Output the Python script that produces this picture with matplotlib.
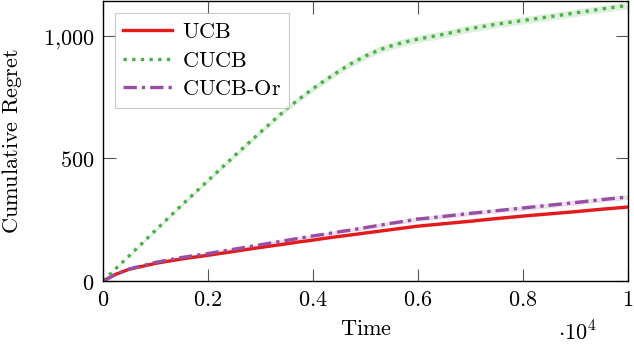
import numpy as np
import matplotlib
matplotlib.use("Agg")
import matplotlib.pyplot as plt
from matplotlib.ticker import FuncFormatter, MultipleLocator

plt.rcParams["mathtext.fontset"] = "cm"
plt.rcParams["font.family"] = "serif"
plt.rcParams["font.serif"] = ["DejaVu Serif"]

# time steps
time = [0, 250, 500, 1000, 1500, 2000, 2500, 3000, 3500, 3750, 4000, 4250, 4500, 4750,
        5000, 5250, 5500, 5750, 6000, 6250, 6500, 7000, 7500, 8000, 8500, 9000, 9500, 10000]

ucb = [0, 28, 48, 72, 90, 105, 121, 137, 152, 160, 167, 175, 182, 189,
       196, 203, 210, 217, 224, 229, 234, 244, 255, 265, 274, 283, 293, 302]
cucb = [0, 52, 103, 207, 310, 410, 510, 608, 703, 745, 785, 822, 857, 890,
        918, 942, 960, 975, 987, 997, 1007, 1030, 1048, 1063, 1078, 1094, 1110, 1125]
cucb_or = [0, 28, 49, 76, 96, 112, 130, 148, 166, 175, 184, 192, 201, 209,
           218, 227, 236, 244, 253, 258, 264, 276, 287, 298, 309, 320, 332, 343]

# half-width of the shaded bands
ucb_sd = [0, 1, 2, 3, 3, 4, 4, 4, 5, 5, 5, 5, 5, 5,
          5, 5, 5, 5, 5, 6, 6, 6, 6, 6, 6, 6, 6, 6]
cucb_sd = [0, 2, 4, 6, 7, 8, 9, 10, 11, 12, 12, 13, 13, 14,
           14, 15, 15, 15, 15, 15, 15, 15, 15, 15, 15, 15, 15, 15]
cucb_or_sd = [0, 1, 3, 4, 5, 5, 6, 6, 7, 7, 7, 7, 8, 8,
              8, 8, 8, 9, 9, 9, 9, 9, 9, 10, 10, 10, 10, 10]

series = [
    ("UCB", ucb, ucb_sd, "#e41a1c", "-"),
    ("CUCB", cucb, cucb_sd, "#4daf4a", (0, (1, 1.6))),
    ("CUCB-Or", cucb_or, cucb_or_sd, "#984ea3", (0, (4, 1.5, 1, 1.5))),
]

fig = plt.figure(figsize=(6.34, 3.48), dpi=100)
ax = fig.add_axes([0.1625, 0.1925, 0.828, 0.805])

t = np.array(time)
for name, y, sd, col, ls in series:
    y = np.array(y)
    sd = np.array(sd)
    ax.fill_between(t, y - sd, y + sd, color=col, alpha=0.18, lw=0)
    ax.plot(t, y, color=col, ls=ls, lw=2.4, label=r"$\text{%s}$" % name)

ax.set_xlim(0, 10000)
ax.set_ylim(0, 1143)
ax.xaxis.set_major_locator(MultipleLocator(2000))
ax.yaxis.set_major_locator(MultipleLocator(500))


def xfmt(v, pos):
    v = v / 1e4
    if abs(v) < 1e-9:
        return r"$0$"
    if abs(v - 1) < 1e-9:
        return r"$1$"
    return r"$%.1f$" % v


def yfmt(v, pos):
    return r"$%s$" % ("{:,}".format(int(v)).replace(",", "{,}"))


FS = 16
ax.xaxis.set_major_formatter(FuncFormatter(xfmt))
ax.yaxis.set_major_formatter(FuncFormatter(yfmt))
ax.tick_params(direction="in", length=9, width=0.8, color="#555555",
               top=True, right=True, labelsize=FS, pad=6)
for s in ax.spines.values():
    s.set_linewidth(1.0)

ax.set_xlabel(r"$\text{Time}$", fontsize=FS, labelpad=5)
ax.set_ylabel(r"$\text{Cumulative Regret}$", fontsize=FS, labelpad=14)
fig.text(0.91, 0.043, r"$\cdot 10^{4}$", fontsize=FS, ha="center", va="center")

leg = ax.legend(loc="upper left", fontsize=FS, frameon=True, fancybox=False,
                edgecolor="#bbbbbb", handlelength=2.2, handletextpad=0.45,
                borderaxespad=0.55, labelspacing=0.3, borderpad=0.35)
leg.get_frame().set_linewidth(0.8)

fig.savefig("out.png", dpi=100)
